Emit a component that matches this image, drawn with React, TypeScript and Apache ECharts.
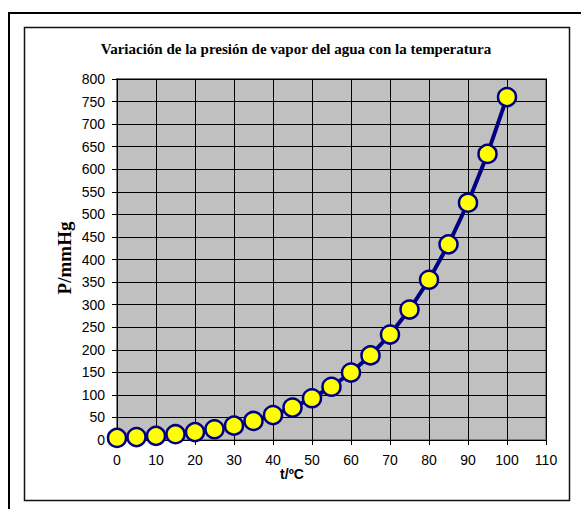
import React, { useEffect, useRef } from "react";
import * as echarts from "echarts";

const temperatures = [0, 5, 10, 15, 20, 25, 30, 35, 40, 45, 50, 55, 60, 65, 70, 75, 80, 85, 90, 95, 100];
const pressures = [4.6, 6.5, 9.2, 12.8, 17.5, 23.8, 31.8, 42.2, 55.3, 71.9, 92.5, 118.0, 149.4, 187.5, 233.7, 289.1, 355.1, 433.6, 525.8, 633.9, 760];
const titleText = "Variación de la presión de vapor del agua con la temperatura";
const xName = "t/ºC";
const yName = "P/mmHg";

export default function App() {
  const ref = useRef<HTMLDivElement>(null);
  useEffect(() => {
    if (!ref.current) return;
    const chart = echarts.init(ref.current, undefined, { renderer: "svg" });
    const data = temperatures.map((t, i) => [t, pressures[i]]);
    chart.setOption({
      animation: false,
      backgroundColor: "#ffffff",
      grid: {
        show: true,
        left: 117,
        top: 79,
        right: 35,
        bottom: 69,
        backgroundColor: "#C0C0C0",
        borderColor: "#808080",
        borderWidth: 2,
      },
      xAxis: {
        type: "value",
        min: 0,
        max: 110,
        interval: 10,
        axisLine: { show: true, onZero: false, lineStyle: { color: "#000", width: 1 } },
        axisTick: { show: true, length: 5, lineStyle: { color: "#000" } },
        axisLabel: { color: "#000", fontSize: 14, fontFamily: "Liberation Sans", margin: 13 },
        splitLine: { show: true, lineStyle: { color: "#000", width: 1 } },
      },
      yAxis: {
        type: "value",
        min: 0,
        max: 800,
        interval: 50,
        axisLine: { show: true, onZero: false, lineStyle: { color: "#000", width: 1 } },
        axisTick: { show: true, length: 5, lineStyle: { color: "#000" } },
        axisLabel: { color: "#000", fontSize: 14, fontFamily: "Liberation Sans", margin: 12 },
        splitLine: { show: true, lineStyle: { color: "#000", width: 1 } },
      },
      series: [
        {
          type: "line",
          data,
          symbol: "circle",
          symbolSize: 18,
          lineStyle: { color: "#000080", width: 4 },
          itemStyle: { color: "#FFFF00", borderColor: "#000080", borderWidth: 2.5 },
          z: 5,
        },
      ],
      graphic: [
        {
          type: "rect",
          shape: { x: 9, y: 13, width: 620, height: 620 },
          style: { fill: "none", stroke: "#000", lineWidth: 2 },
          silent: true,
        },
        {
          type: "rect",
          shape: { x: 24.5, y: 27.5, width: 545, height: 473 },
          style: { fill: "none", stroke: "#111", lineWidth: 1.5 },
          silent: true,
        },
        {
          type: "text",
          x: 296,
          y: 49,
          style: {
            text: titleText,
            fontFamily: "'Liberation Serif', serif",
            fontWeight: "bold",
            fontSize: 15,
            fill: "#000",
            align: "center",
            verticalAlign: "middle",
          },
        },
        {
          type: "text",
          x: 292,
          y: 474,
          style: {
            text: xName,
            fontFamily: "Liberation Sans",
            fontWeight: "bold",
            fontSize: 14,
            fill: "#000",
            align: "center",
            verticalAlign: "middle",
          },
        },
        {
          type: "text",
          x: 64,
          y: 258,
          rotation: Math.PI / 2,
          style: {
            text: yName,
            fontFamily: "'Liberation Serif', serif",
            fontWeight: "bold",
            fontSize: 19,
            fill: "#000",
            align: "center",
            verticalAlign: "middle",
          },
        },
      ],
    });
    return () => chart.dispose();
  }, []);
  return <div ref={ref} style={{ position: "fixed", left: 0, top: 0, width: 581, height: 509 }} />;
}
